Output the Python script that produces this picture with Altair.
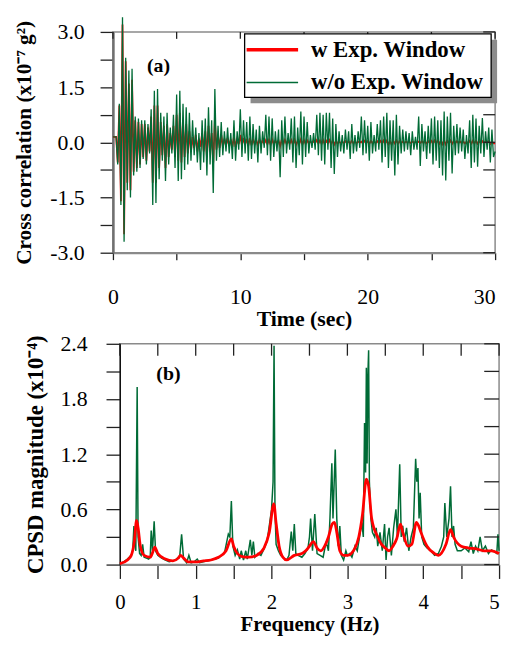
import altair as alt
import pandas as pd

SERIES = ["w Exp. Window", "w/o Exp. Window"]
COLORS = ["#ff0000", "#006b36"]
FONT = "Liberation Serif"

# ---------------- panel (a): cross correlation, samples every 0.125 s ----------------
dt = 0.125
green_a = [
    0.15, 0.15, 0.15, -0.6, 1.05, -1.7, 3.4, -2.7,
    2.3, -1.3, 1.95, -1.5, 2.0, -0.9, 0.7, -0.8,
    0.65, -0.7, 0.6, -0.45, 0.6, -0.6, 0.5, -0.3,
    0.9, -1.7, 1.4, -1.65, 1.45, -1.0, 0.8, -0.5,
    0.7, -1.05, 0.8, -0.6, 0.4, -0.3, 0.75, -0.7,
    1.3, -1.05, 1.4, -1.0, 1.05, -0.75, 0.95, -0.6,
    0.8, -0.5, 0.6, -0.35, 0.4, -0.55, 0.25, -0.75,
    0.6, -0.55, 0.65, -0.9, 0.95, -0.6, 0.6, -1.38,
    1.45, -0.5, 0.45, -0.4, 0.55, -0.35, 0.3, -0.25,
    0.4, -0.3, 0.25, -0.45, 0.6, -0.5, 0.3, -0.2,
    0.9, -0.4, 0.6, -0.3, 0.55, -0.5, 0.7, -0.45,
    0.5, -0.3, 0.35, -0.55, 0.45, -0.3, 0.3, -0.15,
    0.75, -0.35, 0.7, -0.5, 0.65, -0.4, 0.3, -0.25,
    0.35, -0.95, 0.6, -0.4, 0.7, -0.3, 0.25, -0.2,
    0.65, -0.55, 0.7, -0.7, 0.4, -0.35, 0.84, -0.6,
    0.7, -0.4, 0.55, -0.3, 0.2, -0.15, 0.25, -0.2,
    0.75, -0.35, 0.8, -0.5, 0.75, -0.6, 0.8, -0.2,
    0.8, -0.7, 0.65, -0.86, 0.5, -0.4, 0.3, -0.25,
    0.2, -0.3, 0.35, -0.2, 0.3, -0.45, 0.5, -0.3,
    0.2, -0.25, 0.3, -0.15, 0.7, -0.35, 0.6, -0.3,
    0.45, -0.5, 0.55, -0.3, 0.2, -0.25, 0.5, -0.2,
    0.6, -0.55, 0.7, -0.4, 0.8, -0.7, 0.6, -0.5,
    0.6, -0.9, 0.75, -0.6, 0.45, -0.3, 0.35, -0.25,
    0.3, -0.2, 0.25, -0.35, 0.3, -0.2, 0.15, -0.2,
    0.7, -0.64, 0.5, -0.25, 0.3, -0.45, 0.45, -0.3,
    0.65, -0.6, 0.7, -0.5, 0.6, -0.7, 0.6, -0.9,
    0.84, -1.04, 0.7, -0.5, 0.8, -0.85, 0.45, -0.35,
    0.5, -0.3, 0.4, -0.25, 0.35, -0.45, 0.2, -0.3,
    0.6, -0.7, 0.75, -0.55, 0.65, -0.66, 0.45, -0.3,
    0.66, -0.4, 0.3, -0.2, 0.4, -0.55, 0.35, -0.4, -0.25,
]
red_a = [
    0.15, 0.15, 0.15, -0.55, 1.0, -1.6, 3.2, -2.5,
    2.2, -1.1, 1.6, -1.3, 1.7, -0.8, 0.6, -0.7,
    0.55, -0.6, 0.5, -0.4, 0.5, -0.5, 0.4, -0.25,
    0.7, -1.1, 1.0, -1.1, 1.0, -0.7, 0.55, -0.35,
    0.45, -0.7, 0.5, -0.4, 0.25, -0.2, 0.45, -0.4,
    0.75, -0.5, 0.8, -0.55, 0.55, -0.4, 0.5, -0.3,
    0.3, -0.25, 0.15, -0.15, 0.2, -0.25, 0.1, -0.12,
    0.25, -0.25, 0.3, -0.4, 0.45, -0.25, 0.25, -0.55,
    0.6, -0.2, 0.18, -0.15, 0.2, -0.12, 0.1, -0.08,
    0.12, -0.1, 0.08, -0.12, 0.15, -0.12, 0.08, -0.05,
    0.2, -0.08, 0.12, -0.06, 0.1, -0.09, 0.12, -0.08,
    0.08, -0.05, 0.06, -0.08, 0.07, -0.05, 0.05, -0.03,
    0.06, -0.05, 0.07, -0.06, 0.08, -0.05, 0.04, -0.03,
    0.05, -0.1, 0.07, -0.05, 0.07, -0.04, 0.03, -0.03,
    0.06, -0.06, 0.07, -0.07, 0.04, -0.04, 0.08, -0.06,
    0.06, -0.04, 0.05, -0.03, 0.02, -0.02, 0.03, -0.02,
    0.06, -0.03, 0.05, -0.04, 0.06, -0.05, 0.04, -0.02,
    0.06, -0.05, 0.05, -0.06, 0.04, -0.03, 0.02, -0.02,
    0.02, -0.02, 0.03, -0.02, 0.02, -0.03, 0.04, -0.02,
    0.02, -0.02, 0.02, -0.01, 0.02, -0.03, 0.04, -0.02,
    0.03, -0.04, 0.04, -0.02, 0.02, -0.02, 0.03, -0.02,
    0.04, -0.04, 0.05, -0.03, 0.05, -0.05, 0.03, -0.06,
    0.04, -0.03, 0.05, -0.04, 0.03, -0.02, 0.02, -0.02,
    0.02, -0.01, 0.02, -0.02, 0.02, -0.01, 0.01, -0.01,
    0.02, -0.02, 0.03, -0.02, 0.02, -0.03, 0.03, -0.02,
    0.04, -0.04, 0.05, -0.03, 0.05, -0.04, 0.04, -0.05,
    0.05, -0.06, 0.04, -0.03, 0.05, -0.04, 0.03, -0.02,
    0.03, -0.02, 0.02, -0.02, 0.02, -0.03, 0.01, -0.02,
    0.04, -0.04, 0.04, -0.03, 0.04, -0.04, 0.03, -0.02,
    0.03, -0.03, 0.02, -0.02, 0.03, -0.04, 0.02, -0.03, -0.03,
]
time_s = [i * dt for i in range(len(green_a))]

# ---------------- panel (b): CPSD magnitude ----------------
freq_g = [
    0.0, 0.05, 0.1, 0.15, 0.17, 0.185, 0.2, 0.21, 0.228, 0.24, 0.26, 0.28, 0.3, 0.32,
    0.35, 0.38, 0.4, 0.413, 0.43, 0.452, 0.47, 0.5, 0.55, 0.6, 0.65, 0.7, 0.75, 0.79,
    0.814, 0.84, 0.88, 0.91, 0.94, 0.98, 1.02, 1.05, 1.1, 1.2, 1.3, 1.38, 1.43, 1.45,
    1.47, 1.49, 1.52, 1.55, 1.58, 1.6, 1.63, 1.66, 1.68, 1.72, 1.74, 1.76, 1.78, 1.82,
    1.86, 1.9, 1.94, 1.97, 2.0, 2.02, 2.033, 2.045, 2.06, 2.09, 2.12, 2.16, 2.2, 2.23,
    2.26, 2.28, 2.3, 2.32, 2.35, 2.4, 2.44, 2.48, 2.5, 2.515, 2.54, 2.57, 2.6, 2.64,
    2.68, 2.72, 2.75, 2.77, 2.795, 2.81, 2.84, 2.86, 2.88, 2.9, 2.92, 2.95, 2.98, 3.0,
    3.03, 3.06, 3.1, 3.13, 3.16, 3.19, 3.21, 3.226, 3.24, 3.25, 3.26, 3.27, 3.28, 3.29,
    3.31, 3.33, 3.36, 3.38, 3.4, 3.43, 3.46, 3.49, 3.51, 3.53, 3.55, 3.58, 3.61, 3.64,
    3.66, 3.69, 3.71, 3.73, 3.75, 3.78, 3.81, 3.84, 3.87, 3.9, 3.915, 3.93, 3.945, 3.96,
    3.98, 4.01, 4.05, 4.1, 4.15, 4.2, 4.24, 4.27, 4.285, 4.31, 4.34, 4.36, 4.38, 4.4,
    4.42, 4.45, 4.5, 4.55, 4.6, 4.63, 4.66, 4.69, 4.72, 4.75, 4.78, 4.82, 4.86, 4.9,
    4.94, 4.97, 4.985, 5.0,
]
cpsd_g = [
    0.01, 0.03, 0.06, 0.1, 0.16, 0.42, 0.2, 0.15, 1.93, 0.3, 0.12, 0.1, 0.22, 0.08,
    0.07, 0.06, 0.08, 0.37, 0.15, 0.47, 0.15, 0.1, 0.07, 0.05, 0.03, 0.04, 0.06, 0.1,
    0.33, 0.06, 0.02, 0.1, 0.02, 0.03, 0.06, 0.02, 0.03, 0.05, 0.07, 0.13, 0.33, 0.3,
    0.69, 0.2, 0.1, 0.16, 0.06, 0.15, 0.05, 0.15, 0.06, 0.27, 0.1, 0.25, 0.08, 0.12,
    0.1, 0.17, 0.25, 0.42, 0.6, 0.9, 2.38, 0.6, 0.22, 0.15, 0.1, 0.07, 0.05, 0.1,
    0.36, 0.15, 0.44, 0.12, 0.1, 0.08, 0.12, 0.18, 0.3, 0.5, 0.15, 0.55, 0.12, 0.1,
    0.08, 0.25, 0.15, 0.5, 1.1, 0.5, 1.25, 0.5, 0.2, 0.42, 0.1, 0.05, 0.15, 0.1,
    0.12, 0.08, 0.2, 0.15, 0.3, 0.46, 0.3, 1.54, 1.0, 2.14, 1.1, 2.05, 2.33, 0.9,
    0.5, 0.35, 0.3, 0.4, 0.2, 0.35, 0.15, 0.44, 0.05, 0.3, 0.4, 0.1, 0.4, 0.6,
    0.3, 1.09, 0.3, 0.42, 0.25, 0.4, 0.15, 0.3, 0.4, 1.15, 0.9, 1.05, 0.5, 0.78,
    0.3, 0.22, 0.18, 0.15, 0.1, 0.12, 0.2, 0.3, 0.67, 0.3, 0.5, 0.85, 0.3, 0.42,
    0.22, 0.15, 0.15, 0.18, 0.14, 0.25, 0.12, 0.2, 0.15, 0.3, 0.15, 0.2, 0.12, 0.16,
    0.14, 0.12, 0.33, 0.15,
]
freq_r = [
    0.0, 0.1, 0.15, 0.19, 0.22, 0.24, 0.27, 0.32, 0.4, 0.44, 0.46, 0.5, 0.6, 0.7, 0.77,
    0.8, 0.84, 0.9, 1.0, 1.1, 1.2, 1.3, 1.4, 1.47, 1.5, 1.55, 1.6, 1.7, 1.8, 1.9, 1.97,
    2.03, 2.06, 2.1, 2.15, 2.2, 2.3, 2.4, 2.45, 2.5, 2.55, 2.6, 2.65, 2.7, 2.75, 2.8,
    2.83, 2.86, 2.9, 2.95, 3.0, 3.1, 3.15, 3.2, 3.25, 3.28, 3.32, 3.4, 3.45, 3.5, 3.55,
    3.6, 3.65, 3.7, 3.73, 3.8, 3.85, 3.91, 3.94, 3.97, 4.05, 4.15, 4.2, 4.3, 4.36, 4.4,
    4.5, 4.6, 4.7, 4.8, 4.9, 5.0,
]
cpsd_r = [
    0.01, 0.05, 0.1, 0.25, 0.48, 0.4, 0.2, 0.1, 0.08, 0.15, 0.19, 0.12, 0.06, 0.04, 0.07,
    0.1, 0.07, 0.03, 0.03, 0.04, 0.05, 0.08, 0.15, 0.28, 0.2, 0.12, 0.09, 0.08, 0.1, 0.18, 0.35,
    0.66, 0.45, 0.2, 0.08, 0.05, 0.1, 0.12, 0.15, 0.2, 0.25, 0.18, 0.15, 0.2, 0.3, 0.44,
    0.46, 0.35, 0.15, 0.1, 0.1, 0.18, 0.3, 0.55, 0.93, 0.85, 0.5, 0.3, 0.22, 0.18, 0.15,
    0.2, 0.28, 0.44, 0.35, 0.2, 0.22, 0.46, 0.42, 0.35, 0.2, 0.12, 0.1, 0.22, 0.38, 0.3,
    0.2, 0.18, 0.17, 0.15, 0.15, 0.12,
]

# axis tick positions
xa_vals = [0, 5, 10, 15, 20, 25, 30]
ya_vals = [-3, -2.25, -1.5, -0.75, 0, 0.75, 1.5, 2.25, 3]
xb_vals = [0, 0.5, 1, 1.5, 2, 2.5, 3, 3.5, 4, 4.5, 5]
yb_vals = [0, 0.3, 0.6, 0.9, 1.2, 1.5, 1.8, 2.1, 2.4]

# ---------------- tables ----------------
n = len(time_s)
df_a = pd.DataFrame({
    "t": time_s + time_s,
    "v": red_a + green_a,
    "series": [SERIES[0]] * n + [SERIES[1]] * n,
})
df_bg = pd.DataFrame({"f": freq_g, "v": cpsd_g})
df_br = pd.DataFrame({"f": freq_r, "v": cpsd_r})
one = pd.DataFrame({"k": [0]})

axis_common = dict(
    grid=False, labelFont=FONT, labelColor="black",
    titleFont=FONT, titleFontWeight="bold", titleColor="black",
    tickColor="#222222", tickWidth=1.3,
)
TICK = dict(color="#222222", strokeWidth=1.3)

def y_label_expr(major):
    arr = "[" + ",".join(str(m) for m in major) + "]"
    return ("indexof(" + arr + ", datum.value) >= 0 ? "
            "(datum.value < 0 ? '-' : '') + format(abs(datum.value), '.1f') : ''")

def last_right(v):
    return {"condition": {"test": "datum.value === %s" % v, "value": "right"}, "value": "center"}

W_A, H_A = 386, 223
W_B, H_B = 383, 223

# ---- panel (a) ----
xa_scale = alt.Scale(domain=[0, 30], nice=False, zero=False)
ya_scale = alt.Scale(domain=[-3, 3], nice=False, zero=False)

lines_a = alt.Chart(df_a).mark_line(clip=False).encode(
    x=alt.X("t:Q", scale=xa_scale, axis=alt.Axis(
        values=xa_vals, labelExpr="datum.value % 10 === 0 ? datum.label : ''",
        title="Time (sec)", tickSize=7, labelPadding=27, titlePadding=2, labelFlush=False,
        labelAlign=last_right(30), labelFontSize=22, titleFontSize=22,
        domainColor="#8a8a8a", domainWidth=2, **axis_common)),
    y=alt.Y("v:Q", scale=ya_scale, axis=alt.Axis(
        values=ya_vals, labelExpr=y_label_expr([-3, -1.5, 0, 1.5, 3]),
        title="Cross correlation (x10⁻⁷ g²)", tickSize=13, labelPadding=16, titlePadding=14,
        labelFontSize=22, titleFontSize=21.5,
        domainColor="#707070", domainWidth=2.5, labelFlush=False, **axis_common)),
    color=alt.Color("series:N", scale=alt.Scale(domain=SERIES, range=COLORS), legend=None),
    strokeWidth=alt.StrokeWidth("series:N", scale=alt.Scale(domain=SERIES, range=[1.8, 1.3]), legend=None),
)

top_ticks_a = alt.Chart(pd.DataFrame({"t": xa_vals})).mark_rule(**TICK).encode(
    x=alt.X("t:Q", scale=xa_scale, axis=None), y=alt.value(0), y2=alt.value(7))
right_ticks_a = alt.Chart(pd.DataFrame({"v": ya_vals})).mark_rule(**TICK).encode(
    y=alt.Y("v:Q", scale=ya_scale, axis=None), x=alt.value(W_A - 12), x2=alt.value(W_A))

shadow = alt.Chart(one).mark_rect(color="#8c8c8c").encode(
    x=alt.value(139), x2=alt.value(388), y=alt.value(8), y2=alt.value(72))
box = alt.Chart(one).mark_rect(fill="white", stroke="black", strokeWidth=1.3).encode(
    x=alt.value(133), x2=alt.value(382), y=alt.value(2), y2=alt.value(66))
leg_r = alt.Chart(one).mark_rule(color=COLORS[0], strokeWidth=3.5).encode(
    x=alt.value(135), x2=alt.value(187), y=alt.value(18))
leg_g = alt.Chart(one).mark_rule(color=COLORS[1], strokeWidth=1.6).encode(
    x=alt.value(135), x2=alt.value(187), y=alt.value(51))
text_style = dict(font=FONT, fontSize=23, fontWeight="bold", color="black", align="left", baseline="middle")
leg_rt = alt.Chart(one).mark_text(**text_style).encode(
    x=alt.value(200), y=alt.value(18), text=alt.value(SERIES[0]))
leg_gt = alt.Chart(one).mark_text(**text_style).encode(
    x=alt.value(200), y=alt.value(51), text=alt.value(SERIES[1]))
tag_a = alt.Chart(one).mark_text(font=FONT, fontSize=20, fontWeight="bold", color="black").encode(
    x=alt.value(46), y=alt.value(34), text=alt.value("(a)"))

panel_a = alt.layer(
    lines_a, top_ticks_a, right_ticks_a, shadow, box, leg_r, leg_g, leg_rt, leg_gt, tag_a
).resolve_axis(x="independent", y="independent").properties(width=W_A, height=H_A)

# ---- panel (b) ----
xb_scale = alt.Scale(domain=[0, 5], nice=False, zero=False)
yb_scale = alt.Scale(domain=[0, 2.4], nice=False, zero=False)

green_b = alt.Chart(df_bg).mark_line(clip=False, color=COLORS[1], strokeWidth=1.5).encode(
    x=alt.X("f:Q", scale=xb_scale, axis=alt.Axis(
        values=xb_vals, labelExpr="datum.value % 1 === 0 ? format(datum.value, 'd') : ''",
        title="Frequency (Hz)", tickSize=14, labelPadding=13, titlePadding=2, labelFlush=False,
        labelAlign=last_right(5), labelFontSize=21, titleFontSize=21,
        domainColor="#8a8a8a", domainWidth=2, **axis_common)),
    y=alt.Y("v:Q", scale=yb_scale, axis=alt.Axis(
        values=yb_vals, labelExpr=y_label_expr([0, 0.6, 1.2, 1.8, 2.4]),
        title="CPSD magnitude (x10⁻⁴)", tickSize=14, labelPadding=19, titlePadding=13,
        labelFontSize=22, titleFontSize=23,
        domainColor="#111111", domainWidth=1.3, labelFlush=False, **axis_common)),
)
red_b = alt.Chart(df_br).mark_line(clip=False, color=COLORS[0], strokeWidth=2.8, interpolate="monotone").encode(
    x=alt.X("f:Q", scale=xb_scale, axis=None),
    y=alt.Y("v:Q", scale=yb_scale, axis=None),
)
top_ticks_b = alt.Chart(pd.DataFrame({"f": xb_vals})).mark_rule(**TICK).encode(
    x=alt.X("f:Q", scale=xb_scale, axis=None), y=alt.value(0), y2=alt.value(12))
right_ticks_b = alt.Chart(pd.DataFrame({"v": yb_vals})).mark_rule(**TICK).encode(
    y=alt.Y("v:Q", scale=yb_scale, axis=None), x=alt.value(W_B - 15), x2=alt.value(W_B))
tag_b = alt.Chart(one).mark_text(font=FONT, fontSize=20, fontWeight="bold", color="black").encode(
    x=alt.value(49), y=alt.value(31), text=alt.value("(b)"))

panel_b = alt.layer(
    green_b, red_b, top_ticks_b, right_ticks_b, tag_b
).resolve_axis(x="independent", y="independent").properties(width=W_B, height=H_B)


def spacer(w):
    return alt.Chart(one).mark_point(opacity=0, size=0).encode(
        x=alt.value(0), y=alt.value(0)
    ).properties(width=w, height=10, view=alt.ViewBackground(stroke="transparent"))


chart = alt.vconcat(
    alt.hconcat(spacer(1), panel_a, spacing=0),
    alt.hconcat(spacer(11), panel_b, spacing=0),
    spacing=1,
).configure_view(
    stroke="#8a8a8a", strokeWidth=1.5
).properties(background="white", padding={"left": 2, "top": 2, "right": 0, "bottom": 0})

chart.save("out.html", embed_options={"renderer": "svg", "actions": False})
